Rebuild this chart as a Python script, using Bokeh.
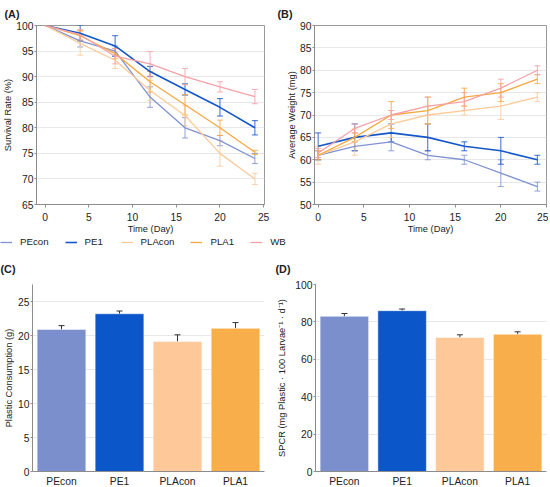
from bokeh.plotting import figure
from bokeh.models import (ColumnDataSource, Whisker, TeeHead, Legend, LegendItem,
                          FixedTicker, Range1d, Title, GlobalInlineStyleSheet)
from bokeh.layouts import column, row
from bokeh.embed import file_html
from bokeh.resources import INLINE

# ---------------- data ----------------
days = [0, 4, 8, 12, 16, 20, 24]
groups = ["PEcon", "PE1", "PLAcon", "PLA1", "WB"]

surv_PEcon = [100, 97, 95, 86, 80, 77.5, 74]
surv_PE1 = [100, 98.5, 96, 91, 87.5, 84, 80]
surv_PLAcon = [100, 96.5, 93.2, 87.3, 82.4, 75, 70]
surv_PLA1 = [100, 98, 94.5, 89, 84.5, 80, 75.2]
surv_WB = [100, 98.2, 94, 92.5, 90, 88, 86.1]
surv_err_PEcon = [0, 1.2, 1, 2, 2, 1, 1]
surv_err_PE1 = [0, 1.5, 2, 1, 1.1, 1.7, 1.4]
surv_err_PLAcon = [0, 2.3, 1.6, 2, 2, 2.5, 1.1]
surv_err_PLA1 = [0, 1, 1, 2, 2, 1.5, 0.4]
surv_err_WB = [0, 1, 1.5, 2.4, 1.6, 1, 1.4]

wt_PEcon = [61, 63, 64, 61, 60, 57, 54]
wt_PE1 = [63, 65, 66, 65, 63, 62, 60]
wt_PLAcon = [61, 64, 68, 70, 71, 72, 74]
wt_PLA1 = [61, 65, 70, 71, 74, 75, 78]
wt_WB = [61.5, 67, 70, 72, 73, 76, 80]
wt_err_PEcon = [1, 1, 2, 1, 1, 3, 1]
wt_err_PE1 = [3, 3, 2, 3, 1, 3, 1]
wt_err_PLAcon = [2, 3, 3, 2, 1, 3, 1]
wt_err_PLA1 = [1, 1, 3, 3, 2, 2, 1]
wt_err_WB = [1, 1, 1, 2, 2, 2, 1]

bar_cats = ["PEcon", "PE1", "PLAcon", "PLA1"]
consumption = [20.9, 23.2, 19.1, 21.05]
consumption_err = [0.55, 0.4, 1.0, 0.85]
spcr = [83.0, 86.0, 71.7, 73.4]
spcr_err = [1.5, 0.9, 1.4, 1.3]

surv_ticks = [65, 70, 75, 80, 85, 90, 95, 100]
wt_ticks = [50, 55, 60, 65, 70, 75, 80, 85, 90]
day_ticks = [0, 5, 10, 15, 20, 25]
cons_ticks = [0, 5, 10, 15, 20, 25]
spcr_ticks = [0, 20, 40, 60, 80, 100]

# ---------------- style ----------------
FONT = "Liberation Sans"
TXT = "#222222"
AXC = "#8c8c8c"
GRID = "#e8e8e8"
line_colors = {"PEcon": "#7f93d2", "PE1": "#1457c8", "PLAcon": "#fdca99",
               "PLA1": "#f6a840", "WB": "#f6a0a7"}
bar_colors = ["#7b8fcd", "#0b56c8", "#fec898", "#f8ae4b"]


def style(p, ylabel, xlabel=None, ylab_standoff=0):
    for ax in (p.xaxis, p.yaxis):
        ax.axis_line_color = AXC
        ax.major_tick_line_color = AXC
        ax.minor_tick_line_color = None
        ax.major_label_text_font = FONT
        ax.major_label_text_font_size = "10.3px"
        ax.major_label_text_color = TXT
        ax.axis_label_text_font = FONT
        ax.axis_label_text_font_size = "9.3px"
        ax.axis_label_text_font_style = "normal"
        ax.axis_label_text_color = TXT
        ax.major_tick_in = 0
        ax.major_tick_out = 3
    p.yaxis.major_tick_out = 2
    p.yaxis.axis_label = ylabel
    p.yaxis.major_label_standoff = 1
    p.yaxis.axis_label_standoff = ylab_standoff
    if xlabel:
        p.xaxis.axis_label = xlabel
    p.xaxis.major_label_standoff = 5
    p.xaxis.axis_label_standoff = 0
    p.xgrid.visible = False
    p.ygrid.grid_line_color = GRID
    p.background_fill_color = "white"
    p.border_fill_color = "white"


def add_title(p, text, offset, standoff):
    t = Title(text=text, align="left", offset=offset, standoff=standoff,
              text_font=FONT, text_font_size="10.8px", text_font_style="bold",
              text_color=TXT)
    p.add_layout(t, "above")


def line_fig(letter, ylabel, series, errs, yr, xr, yticks, bl, br, toff):
    p = figure(width=274, height=236, x_range=Range1d(*xr), y_range=Range1d(*yr),
               output_backend="svg", toolbar_location=None,
               min_border_left=bl, min_border_right=br, min_border_top=18,
               min_border_bottom=32)
    style(p, ylabel, "Time (Day)")
    p.outline_line_color = "#9a9a9a"
    p.xaxis.ticker = FixedTicker(ticks=day_ticks)
    p.yaxis.ticker = FixedTicker(ticks=yticks)
    add_title(p, letter, toff, 11)
    for g in groups:
        c = line_colors[g]
        ys = series[g]
        es = errs[g]
        xs_e = [d for d, e in zip(days, es) if e > 0]
        up = [y + e for y, e in zip(ys, es) if e > 0]
        lo = [y - e for y, e in zip(ys, es) if e > 0]
        src = ColumnDataSource(dict(x=xs_e, u=up, l=lo))
        w = Whisker(base="x", upper="u", lower="l", source=src, dimension="height",
                    line_color=c, line_width=1, line_alpha=0.85,
                    upper_head=TeeHead(size=6, line_color=c, line_width=1, line_alpha=0.85),
                    lower_head=TeeHead(size=6, line_color=c, line_width=1, line_alpha=0.85))
        p.add_layout(w)
        p.line(days, ys, line_color=c, line_width=1.6 if g == "PE1" else 1.3)
    return p


def bar_fig(letter, ylabel, vals, errs, ytop, yticks, bl, br, toff, ylab_standoff):
    p = figure(width=274, height=243, x_range=bar_cats, y_range=Range1d(0, ytop),
               output_backend="svg", toolbar_location=None,
               min_border_left=bl, min_border_right=br, min_border_top=38,
               min_border_bottom=17)
    style(p, ylabel, ylab_standoff=ylab_standoff)
    p.outline_line_color = None
    p.yaxis.ticker = FixedTicker(ticks=yticks)
    p.xaxis.major_tick_out = 0
    p.xaxis.major_label_standoff = 4
    add_title(p, letter, toff, 19)
    src = ColumnDataSource(dict(x=bar_cats, top=vals, color=bar_colors,
                                u=[v + e for v, e in zip(vals, errs)],
                                l=[v - e for v, e in zip(vals, errs)]))
    p.vbar(x="x", top="top", width=0.84, fill_color="color", line_color="white",
           line_alpha=0.5, line_width=1, source=src)
    p.add_layout(Whisker(base="x", upper="u", lower="l", source=src, dimension="height",
                         line_color="#333333", line_width=1,
                         upper_head=TeeHead(size=6, line_color="#333333", line_width=1),
                         lower_head=TeeHead(size=6, line_color="#333333", line_width=1)))
    return p


surv = {"PEcon": surv_PEcon, "PE1": surv_PE1, "PLAcon": surv_PLAcon,
        "PLA1": surv_PLA1, "WB": surv_WB}
surv_err = {"PEcon": surv_err_PEcon, "PE1": surv_err_PE1, "PLAcon": surv_err_PLAcon,
            "PLA1": surv_err_PLA1, "WB": surv_err_WB}
wt = {"PEcon": wt_PEcon, "PE1": wt_PE1, "PLAcon": wt_PLAcon,
      "PLA1": wt_PLA1, "WB": wt_WB}
wt_err = {"PEcon": wt_err_PEcon, "PE1": wt_err_PE1, "PLAcon": wt_err_PLAcon,
          "PLA1": wt_err_PLA1, "WB": wt_err_WB}

pA = line_fig("(A)", "Survival Rate (%)", surv, surv_err, (65, 100), (-1, 25.1),
              surv_ticks, 32, 10, -32)
pB = line_fig("(B)", "Average Weight (mg)", wt, wt_err, (50, 90), (-0.4, 25),
              wt_ticks, 40, 2, -37)
pC = bar_fig("(C)", "Plastic Consumption (g)", consumption, consumption_err, 27.5,
             cons_ticks, 32, 10, -32, 1)
pD = bar_fig("(D)", "SPCR (mg Plastic \u00b7 100 Larvae\u207b\u00b9 \u00b7 d\u207b\u00b9)",
             spcr, spcr_err, 100, spcr_ticks, 40, 2, -40, 5)

# legend strip between the rows (series lines fall outside this strip's ranges)
pL = figure(width=548, height=10, output_backend="svg", toolbar_location=None,
            min_border=0, x_range=Range1d(0, 1), y_range=Range1d(0, 1))
pL.axis.visible = False
pL.grid.visible = False
pL.outline_line_color = None
items = []
for g in groups:
    r = pL.line(days, surv[g], line_color=line_colors[g],
                line_width=1.6 if g == "PE1" else 1.3)
    items.append(LegendItem(label=g, renderers=[r]))
lg = Legend(items=items, orientation="horizontal", location="top_left",
            glyph_width=12, glyph_height=10, label_standoff=8, spacing=16,
            padding=0, margin=0, border_line_color=None, background_fill_alpha=0,
            label_text_font=FONT, label_text_font_size="9.7px",
            label_text_color=TXT, label_height=10)
pL.add_layout(lg)

layout = column(row(pA, pB), pL, row(pC, pD))
layout.stylesheets = [GlobalInlineStyleSheet(css="html, body { overflow: hidden; }")]
open("out.html", "w").write(file_html(layout, INLINE))
